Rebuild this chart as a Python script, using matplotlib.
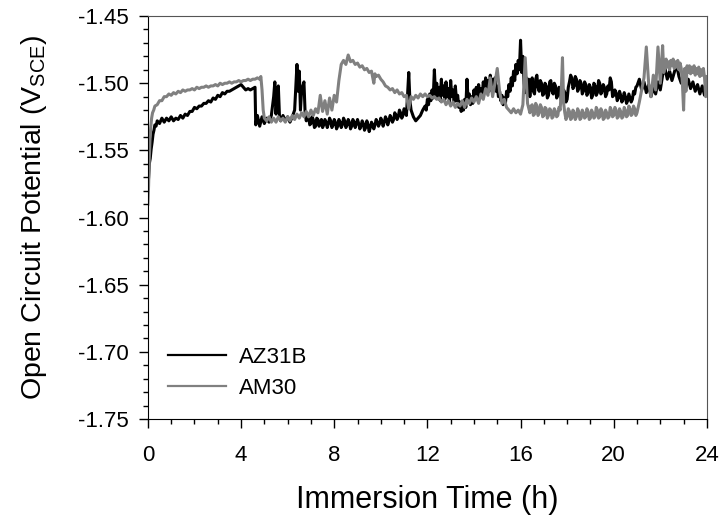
import matplotlib
matplotlib.use("Agg")
import matplotlib.pyplot as plt
from matplotlib.ticker import MultipleLocator, FormatStrFormatter
import numpy as np

plt.rcParams['font.family'] = ['Liberation Sans', 'DejaVu Sans']
plt.rcParams['mathtext.default'] = 'regular'

#%% Data (time in h, potential in V_SCE)
az31b = [
    (0.00, -1.578), (0.03, -1.570), (0.06, -1.560), (0.10, -1.556), (0.14, -1.549),
    (0.18, -1.544), (0.22, -1.538), (0.26, -1.535), (0.30, -1.531), (0.35, -1.532),
    (0.40, -1.528), (0.50, -1.530), (0.60, -1.526), (0.70, -1.529), (0.80, -1.526),
    (0.90, -1.528), (1.00, -1.525), (1.10, -1.528), (1.20, -1.526), (1.30, -1.527),
    (1.40, -1.524), (1.50, -1.526), (1.60, -1.523), (1.70, -1.524), (1.80, -1.521),
    (1.90, -1.521), (2.00, -1.518), (2.10, -1.519), (2.20, -1.517), (2.30, -1.517),
    (2.40, -1.515), (2.50, -1.515), (2.60, -1.513), (2.70, -1.514), (2.80, -1.511),
    (2.90, -1.512), (3.00, -1.509), (3.10, -1.510), (3.20, -1.507), (3.30, -1.508),
    (3.40, -1.506), (3.50, -1.506), (3.60, -1.505), (3.70, -1.504), (3.80, -1.503),
    (3.90, -1.502), (4.00, -1.501), (4.10, -1.503), (4.20, -1.505), (4.30, -1.504),
    (4.40, -1.505), (4.50, -1.504), (4.60, -1.503), (4.63, -1.531), (4.70, -1.524),
    (4.80, -1.532), (4.90, -1.525), (5.00, -1.530), (5.10, -1.526), (5.20, -1.529),
    (5.30, -1.524), (5.40, -1.510), (5.45, -1.499), (5.50, -1.523), (5.55, -1.508),
    (5.60, -1.502), (5.65, -1.525), (5.70, -1.528), (5.80, -1.524), (5.90, -1.528),
    (6.00, -1.525), (6.10, -1.529), (6.20, -1.525), (6.30, -1.520), (6.40, -1.486),
    (6.45, -1.506), (6.50, -1.491), (6.55, -1.520), (6.60, -1.505), (6.70, -1.499),
    (6.75, -1.522), (6.80, -1.528), (6.85, -1.524), (6.90, -1.525), (6.95, -1.531),
    (7.00, -1.530), (7.05, -1.525), (7.10, -1.527), (7.15, -1.533), (7.20, -1.532),
    (7.25, -1.526), (7.30, -1.527), (7.35, -1.532), (7.40, -1.530), (7.45, -1.527),
    (7.50, -1.533), (7.55, -1.531), (7.60, -1.527), (7.65, -1.529), (7.70, -1.533),
    (7.75, -1.530), (7.80, -1.526), (7.85, -1.528), (7.90, -1.533), (7.95, -1.531),
    (8.00, -1.527), (8.05, -1.529), (8.10, -1.534), (8.15, -1.532), (8.20, -1.527),
    (8.25, -1.529), (8.30, -1.533), (8.35, -1.531), (8.40, -1.526), (8.45, -1.528),
    (8.50, -1.533), (8.55, -1.531), (8.60, -1.527), (8.65, -1.529), (8.70, -1.534),
    (8.75, -1.532), (8.80, -1.527), (8.85, -1.529), (8.90, -1.533), (8.95, -1.530),
    (9.00, -1.527), (9.05, -1.530), (9.10, -1.534), (9.15, -1.532), (9.20, -1.528),
    (9.25, -1.530), (9.30, -1.535), (9.35, -1.533), (9.40, -1.528), (9.45, -1.531),
    (9.50, -1.536), (9.55, -1.533), (9.60, -1.529), (9.65, -1.531), (9.70, -1.534),
    (9.75, -1.531), (9.80, -1.527), (9.85, -1.529), (9.90, -1.532), (9.95, -1.530),
    (10.00, -1.526), (10.05, -1.528), (10.10, -1.532), (10.15, -1.529), (10.20, -1.525),
    (10.25, -1.527), (10.30, -1.531), (10.35, -1.528), (10.40, -1.524), (10.45, -1.526),
    (10.50, -1.529), (10.55, -1.527), (10.60, -1.522), (10.65, -1.524), (10.70, -1.527),
    (10.75, -1.525), (10.80, -1.520), (10.85, -1.522), (10.90, -1.526), (10.95, -1.524),
    (11.00, -1.519), (11.05, -1.521), (11.10, -1.524),
    (11.20, -1.492), (11.25, -1.513), (11.30, -1.520), (11.40, -1.525), (11.50, -1.528),
    (11.60, -1.526), (11.70, -1.524), (11.80, -1.520), (11.90, -1.517), (11.95, -1.520),
    (12.00, -1.512), (12.05, -1.516), (12.10, -1.508), (12.15, -1.513), (12.20, -1.505),
    (12.25, -1.511), (12.30, -1.490), (12.35, -1.509), (12.40, -1.500), (12.45, -1.511),
    (12.50, -1.503), (12.55, -1.513), (12.60, -1.497), (12.65, -1.509), (12.70, -1.502),
    (12.75, -1.512), (12.80, -1.499), (12.85, -1.510), (12.90, -1.504), (12.95, -1.514),
    (13.00, -1.498), (13.05, -1.510), (13.10, -1.505), (13.15, -1.514), (13.20, -1.502),
    (13.25, -1.513), (13.30, -1.509), (13.35, -1.518), (13.40, -1.514), (13.45, -1.521),
    (13.50, -1.516), (13.55, -1.520), (13.60, -1.512), (13.65, -1.518), (13.70, -1.497),
    (13.75, -1.513), (13.80, -1.508), (13.85, -1.516), (13.90, -1.510), (13.95, -1.515),
    (14.00, -1.505), (14.05, -1.512), (14.10, -1.503), (14.15, -1.511), (14.20, -1.501),
    (14.25, -1.509), (14.30, -1.504), (14.35, -1.510), (14.40, -1.499), (14.45, -1.507),
    (14.50, -1.496), (14.55, -1.505), (14.60, -1.498), (14.65, -1.506), (14.70, -1.494),
    (14.75, -1.503), (14.80, -1.497), (14.85, -1.505), (14.90, -1.496), (14.95, -1.506),
    (15.00, -1.502), (15.05, -1.510), (15.10, -1.506), (15.15, -1.513), (15.20, -1.509),
    (15.25, -1.516), (15.30, -1.511), (15.35, -1.515), (15.40, -1.506), (15.45, -1.510),
    (15.50, -1.501), (15.55, -1.506), (15.60, -1.496), (15.65, -1.502), (15.70, -1.491),
    (15.75, -1.498), (15.80, -1.486), (15.85, -1.493), (15.90, -1.483), (15.95, -1.490),
    (16.00, -1.468), (16.05, -1.492), (16.10, -1.480), (16.15, -1.500), (16.20, -1.507),
    (16.25, -1.496), (16.30, -1.509), (16.35, -1.497), (16.40, -1.510), (16.45, -1.499),
    (16.50, -1.496), (16.55, -1.506), (16.60, -1.508), (16.65, -1.497), (16.70, -1.494),
    (16.75, -1.503), (16.80, -1.506), (16.85, -1.498), (16.90, -1.500), (16.95, -1.509),
    (17.00, -1.508), (17.05, -1.500), (17.10, -1.502), (17.15, -1.511), (17.20, -1.509),
    (17.25, -1.499), (17.30, -1.498), (17.35, -1.506), (17.40, -1.508), (17.45, -1.500),
    (17.50, -1.502), (17.55, -1.511), (17.60, -1.509), (17.65, -1.503), (17.70, -1.505),
    (17.75, -1.513), (17.80, -1.511), (17.85, -1.505), (17.90, -1.507), (17.95, -1.514),
    (18.00, -1.512), (18.05, -1.503), (18.10, -1.499), (18.15, -1.494), (18.20, -1.496),
    (18.25, -1.504), (18.30, -1.502), (18.35, -1.495), (18.40, -1.497), (18.45, -1.506),
    (18.50, -1.504), (18.55, -1.498), (18.60, -1.500), (18.65, -1.508), (18.70, -1.506),
    (18.75, -1.499), (18.80, -1.501), (18.85, -1.509), (18.90, -1.507), (18.95, -1.501),
    (19.00, -1.503), (19.05, -1.511), (19.10, -1.509), (19.15, -1.500), (19.20, -1.502),
    (19.25, -1.509), (19.30, -1.507), (19.35, -1.498), (19.40, -1.500), (19.45, -1.508),
    (19.50, -1.506), (19.55, -1.501), (19.60, -1.503), (19.65, -1.510), (19.70, -1.508),
    (19.75, -1.502), (19.80, -1.505), (19.85, -1.496), (19.90, -1.499), (19.95, -1.510),
    (20.00, -1.509), (20.05, -1.505), (20.10, -1.507), (20.15, -1.513), (20.20, -1.511),
    (20.25, -1.506), (20.30, -1.509), (20.35, -1.514), (20.40, -1.512), (20.45, -1.507),
    (20.50, -1.510), (20.55, -1.515), (20.60, -1.513), (20.65, -1.508), (20.70, -1.511),
    (20.75, -1.514), (20.80, -1.512), (20.85, -1.506), (20.90, -1.508), (20.95, -1.503),
    (21.00, -1.502), (21.10, -1.497), (21.20, -1.505), (21.30, -1.499),
    (21.40, -1.507), (21.50, -1.501), (21.60, -1.510), (21.70, -1.503), (21.80, -1.508),
    (21.90, -1.499), (22.00, -1.505), (22.10, -1.494), (22.20, -1.489), (22.30, -1.497),
    (22.40, -1.491), (22.50, -1.498), (22.60, -1.492), (22.70, -1.486), (22.80, -1.495),
    (22.90, -1.500), (23.00, -1.496), (23.10, -1.503), (23.20, -1.497), (23.30, -1.504),
    (23.40, -1.499), (23.50, -1.506), (23.60, -1.501), (23.70, -1.508), (23.80, -1.502),
    (23.90, -1.509), (24.00, -1.505),
]

am30 = [
    (0.00, -1.590), (0.03, -1.576), (0.06, -1.556), (0.09, -1.542), (0.12, -1.533),
    (0.16, -1.526), (0.20, -1.522), (0.25, -1.520), (0.30, -1.517), (0.40, -1.516),
    (0.50, -1.513), (0.60, -1.513), (0.70, -1.510), (0.80, -1.510), (0.90, -1.508),
    (1.00, -1.509), (1.10, -1.507), (1.20, -1.508), (1.30, -1.506), (1.40, -1.507),
    (1.50, -1.505), (1.60, -1.506), (1.70, -1.505), (1.80, -1.505), (1.90, -1.504),
    (2.00, -1.505), (2.10, -1.503), (2.20, -1.504), (2.30, -1.503), (2.40, -1.503),
    (2.50, -1.502), (2.60, -1.503), (2.70, -1.502), (2.80, -1.502), (2.90, -1.501),
    (3.00, -1.502), (3.10, -1.500), (3.20, -1.501), (3.30, -1.500), (3.40, -1.500),
    (3.50, -1.499), (3.60, -1.500), (3.70, -1.499), (3.80, -1.499), (3.90, -1.498),
    (4.00, -1.499), (4.10, -1.498), (4.20, -1.498), (4.30, -1.497), (4.40, -1.498),
    (4.50, -1.497), (4.60, -1.497), (4.70, -1.496), (4.80, -1.497), (4.85, -1.495),
    (4.90, -1.505), (4.95, -1.520), (5.00, -1.526), (5.10, -1.528), (5.20, -1.525),
    (5.30, -1.529), (5.40, -1.526), (5.50, -1.529), (5.60, -1.525), (5.70, -1.528),
    (5.80, -1.526), (5.90, -1.529), (6.00, -1.525), (6.10, -1.528), (6.20, -1.524),
    (6.30, -1.527), (6.40, -1.523), (6.50, -1.526), (6.60, -1.522), (6.70, -1.525),
    (6.80, -1.521), (6.90, -1.525), (7.00, -1.520), (7.10, -1.524), (7.20, -1.519),
    (7.30, -1.522), (7.40, -1.509), (7.50, -1.521), (7.60, -1.513), (7.70, -1.523),
    (7.80, -1.511), (7.90, -1.520), (8.00, -1.509), (8.10, -1.514), (8.20, -1.498),
    (8.30, -1.486), (8.40, -1.483), (8.50, -1.486), (8.60, -1.479), (8.70, -1.484),
    (8.80, -1.483), (8.90, -1.486), (9.00, -1.485), (9.10, -1.488), (9.20, -1.487),
    (9.30, -1.490), (9.40, -1.489), (9.50, -1.492), (9.60, -1.491), (9.70, -1.500),
    (9.75, -1.493), (9.80, -1.495), (9.90, -1.494), (10.00, -1.497), (10.10, -1.499),
    (10.20, -1.502), (10.30, -1.503), (10.40, -1.505), (10.50, -1.504), (10.60, -1.507),
    (10.70, -1.505), (10.80, -1.508), (10.90, -1.507), (11.00, -1.510), (11.10, -1.509),
    (11.20, -1.519), (11.30, -1.510), (11.40, -1.512), (11.50, -1.509), (11.60, -1.511),
    (11.70, -1.508), (11.80, -1.510), (11.90, -1.508), (12.00, -1.510), (12.10, -1.509),
    (12.20, -1.511), (12.30, -1.510), (12.40, -1.512), (12.50, -1.511), (12.60, -1.514),
    (12.70, -1.512), (12.80, -1.516), (12.90, -1.513), (13.00, -1.517), (13.10, -1.514),
    (13.20, -1.518), (13.30, -1.515), (13.40, -1.517), (13.50, -1.513), (13.60, -1.518),
    (13.70, -1.512), (13.80, -1.515), (13.90, -1.511), (14.00, -1.514), (14.10, -1.510),
    (14.20, -1.515), (14.30, -1.508), (14.40, -1.512), (14.50, -1.504), (14.60, -1.509),
    (14.70, -1.496), (14.80, -1.510), (14.90, -1.500), (15.00, -1.489), (15.10, -1.506),
    (15.20, -1.515), (15.30, -1.512), (15.40, -1.518), (15.50, -1.520), (15.60, -1.522),
    (15.70, -1.519), (15.80, -1.522), (15.90, -1.520), (16.00, -1.523), (16.10, -1.516),
    (16.20, -1.481), (16.30, -1.515), (16.40, -1.522), (16.45, -1.517), (16.50, -1.516),
    (16.55, -1.524), (16.60, -1.523), (16.65, -1.515), (16.70, -1.517), (16.75, -1.524),
    (16.80, -1.522), (16.85, -1.516), (16.90, -1.518), (16.95, -1.525), (17.00, -1.524),
    (17.05, -1.518), (17.10, -1.519), (17.15, -1.526), (17.20, -1.524), (17.25, -1.519),
    (17.30, -1.520), (17.35, -1.526), (17.40, -1.525), (17.45, -1.519), (17.50, -1.521),
    (17.55, -1.525), (17.60, -1.524), (17.65, -1.518), (17.70, -1.520), (17.75, -1.505),
    (17.80, -1.481), (17.85, -1.515), (17.90, -1.522), (17.95, -1.527), (18.00, -1.525),
    (18.05, -1.519), (18.10, -1.521), (18.15, -1.527), (18.20, -1.526), (18.25, -1.520),
    (18.30, -1.522), (18.35, -1.527), (18.40, -1.525), (18.45, -1.519), (18.50, -1.521),
    (18.55, -1.527), (18.60, -1.526), (18.65, -1.520), (18.70, -1.522), (18.75, -1.526),
    (18.80, -1.525), (18.85, -1.519), (18.90, -1.521), (18.95, -1.527), (19.00, -1.526),
    (19.05, -1.520), (19.10, -1.522), (19.15, -1.526), (19.20, -1.525), (19.25, -1.518),
    (19.30, -1.520), (19.35, -1.526), (19.40, -1.525), (19.45, -1.519), (19.50, -1.521),
    (19.55, -1.527), (19.60, -1.526), (19.65, -1.520), (19.70, -1.522), (19.75, -1.526),
    (19.80, -1.525), (19.85, -1.518), (19.90, -1.520), (19.95, -1.525), (20.00, -1.524),
    (20.05, -1.518), (20.10, -1.520), (20.15, -1.526), (20.20, -1.525), (20.25, -1.519),
    (20.30, -1.521), (20.35, -1.526), (20.40, -1.525), (20.45, -1.518), (20.50, -1.520),
    (20.55, -1.525), (20.60, -1.524), (20.65, -1.517), (20.70, -1.519), (20.75, -1.524),
    (20.80, -1.523), (20.85, -1.517), (20.90, -1.519), (20.95, -1.524), (21.00, -1.522),
    (21.10, -1.514), (21.20, -1.505), (21.30, -1.496), (21.40, -1.473), (21.50, -1.500),
    (21.60, -1.510), (21.70, -1.494), (21.80, -1.505), (21.90, -1.473), (22.00, -1.500),
    (22.10, -1.472), (22.15, -1.492), (22.20, -1.487), (22.25, -1.482), (22.30, -1.488),
    (22.35, -1.484), (22.40, -1.490), (22.45, -1.483), (22.50, -1.487), (22.55, -1.482),
    (22.60, -1.489), (22.65, -1.484), (22.70, -1.488), (22.75, -1.483), (22.80, -1.490),
    (22.85, -1.485), (22.90, -1.489), (22.95, -1.500), (23.00, -1.520), (23.05, -1.489),
    (23.10, -1.506), (23.15, -1.487), (23.20, -1.492), (23.25, -1.487), (23.30, -1.493),
    (23.35, -1.488), (23.40, -1.492), (23.45, -1.487), (23.50, -1.494), (23.55, -1.489),
    (23.60, -1.493), (23.65, -1.488), (23.70, -1.495), (23.75, -1.490), (23.80, -1.494),
    (23.85, -1.489), (23.90, -1.496), (23.95, -1.510), (24.00, -1.495),
]

t_az, v_az = np.array(az31b).T
t_am, v_am = np.array(am30).T

#%% Plot
fig = plt.figure(figsize=(7.25, 5.18), dpi=100)
ax = fig.add_axes([0.204, 0.191, 0.771, 0.778])

ax.plot(t_az, v_az, color='black', lw=2.2, label='AZ31B')
ax.plot(t_am, v_am, color='#808080', lw=2.2, label='AM30')

ax.set_xlim(0, 24)
ax.set_ylim(-1.75, -1.45)
ax.xaxis.set_major_locator(MultipleLocator(4))
ax.xaxis.set_minor_locator(MultipleLocator(1))
ax.yaxis.set_major_locator(MultipleLocator(0.05))
ax.yaxis.set_minor_locator(MultipleLocator(0.01))
ax.yaxis.set_major_formatter(FormatStrFormatter('%.2f'))

ax.tick_params(which='major', direction='out', length=6.5, width=1, labelsize=16)
ax.tick_params(which='minor', direction='out', length=3.5, width=1)
ax.tick_params(axis='y', which='major', pad=7)
ax.tick_params(axis='x', which='major', pad=12)
for s in ['top', 'right']:
    ax.spines[s].set_color('#555555')

ax.set_xlabel('Immersion Time (h)', fontsize=22, labelpad=14)
ax.set_ylabel('Open Circuit Potential (V$_{SCE}$)', fontsize=20.5, labelpad=21)

leg = ax.legend(loc='lower left', frameon=False, fontsize=16, handlelength=2.6,
                handletextpad=0.6, labelspacing=0.45, bbox_to_anchor=(0.0, 0.0))
for line in leg.get_lines():
    line.set_linewidth(1.6)

fig.savefig('out.png', dpi=100)
